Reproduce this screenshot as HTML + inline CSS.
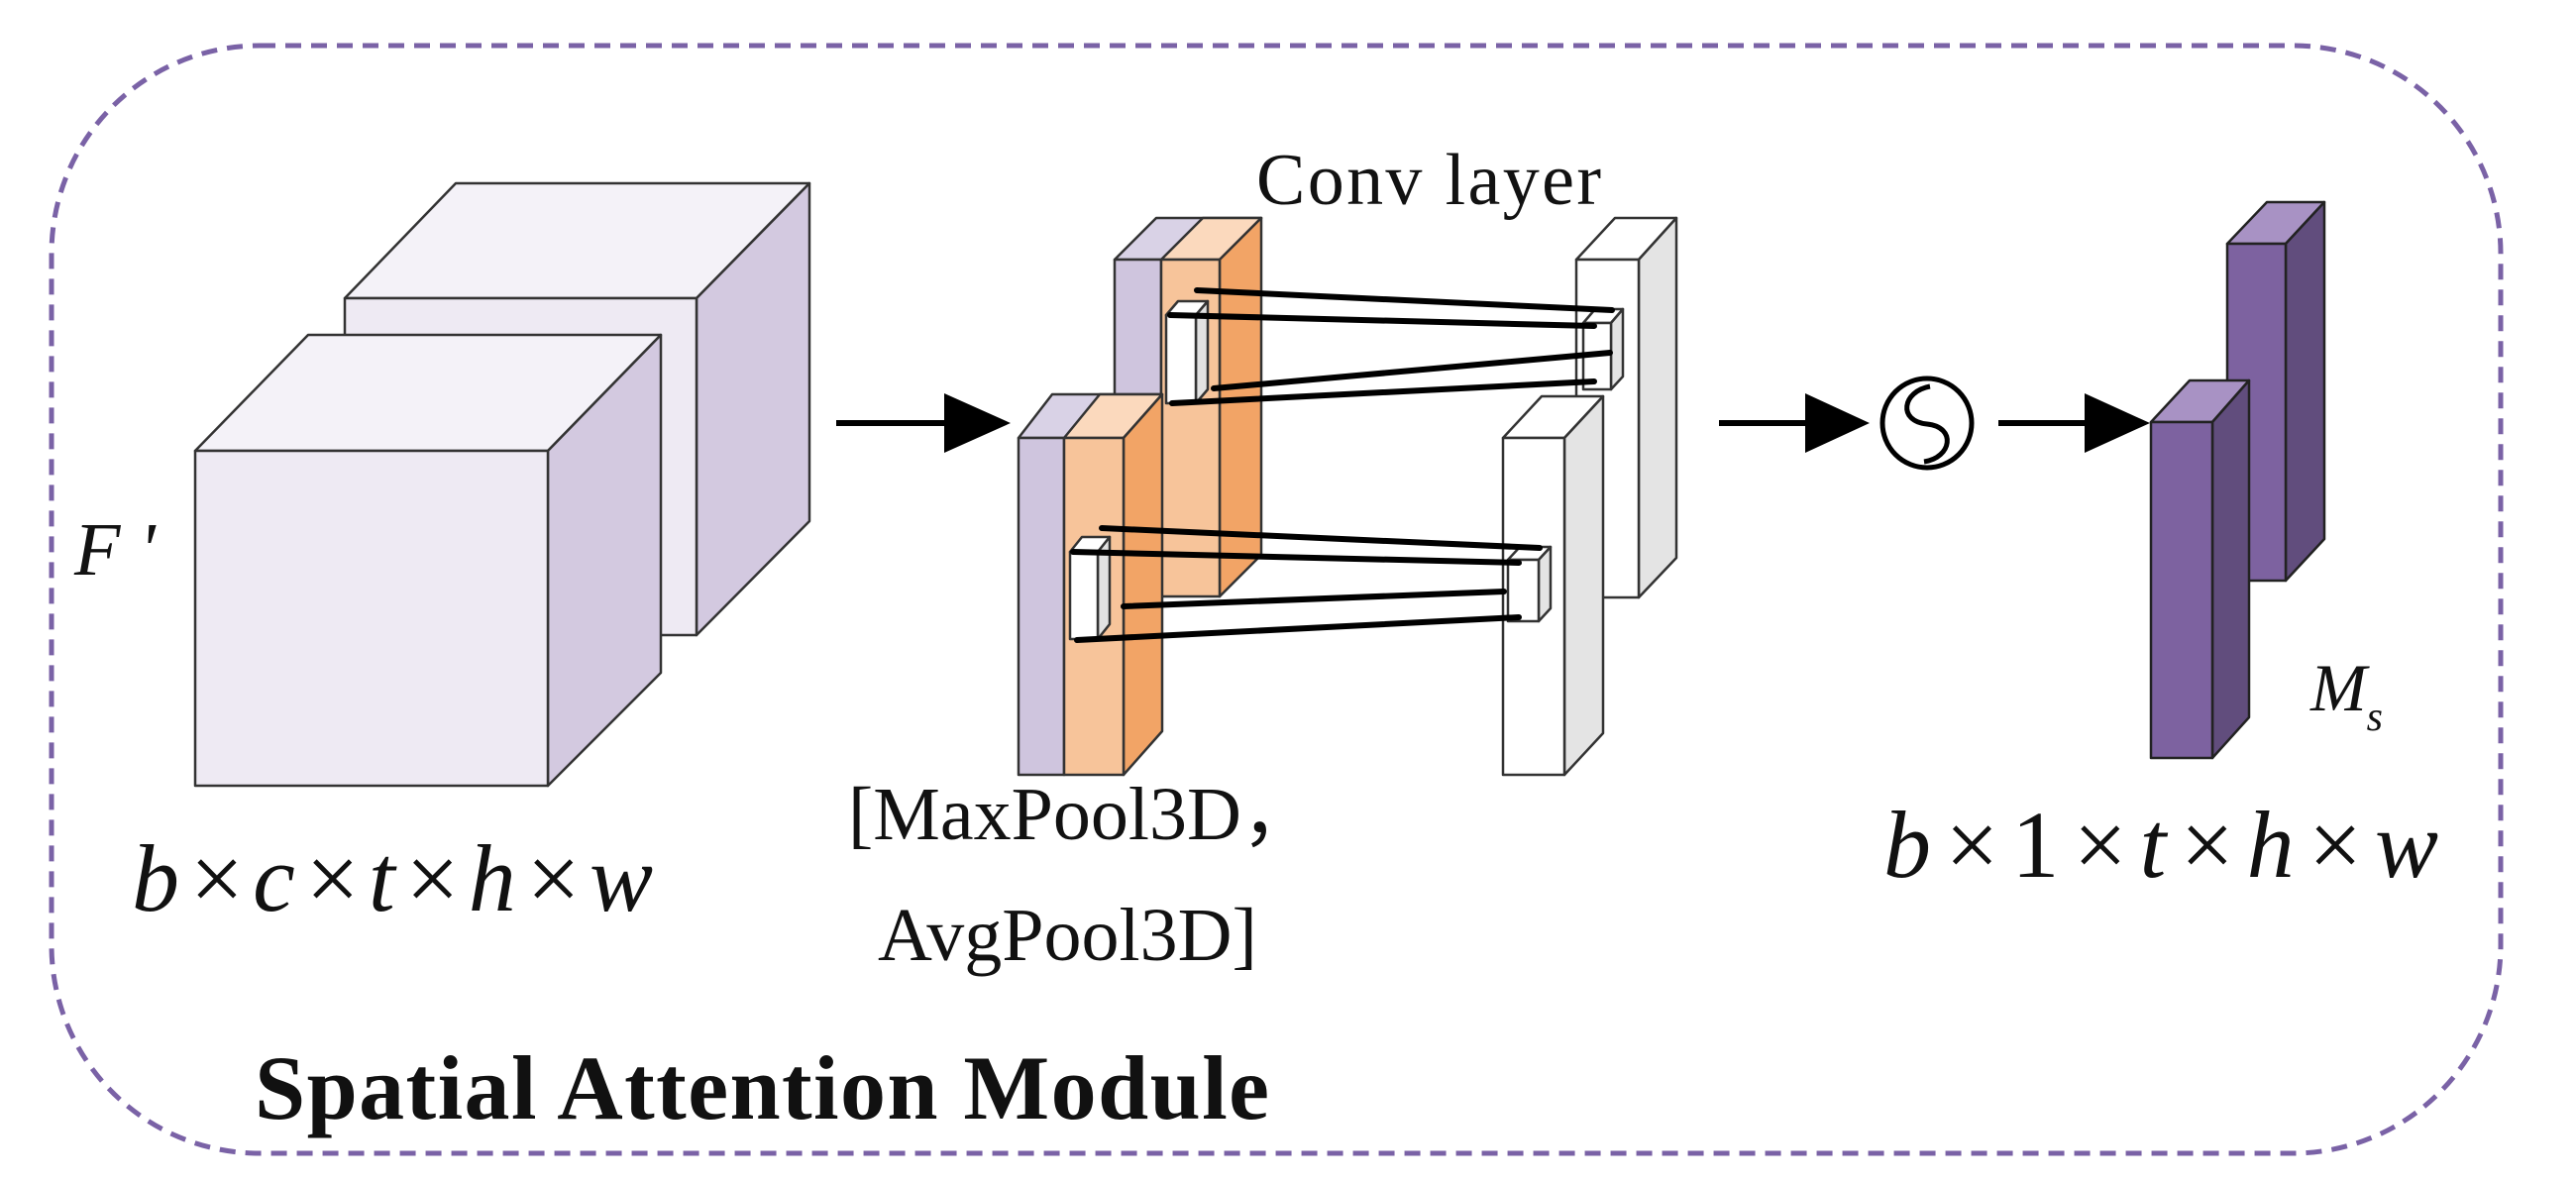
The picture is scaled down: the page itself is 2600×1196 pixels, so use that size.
<!DOCTYPE html>
<html><head><meta charset="utf-8"><style>
html,body{margin:0;padding:0;background:#fff;}
svg{display:block;}
text{font-family:"Liberation Serif",serif;fill:#111;}
</style></head><body>
<svg width="2600" height="1196" viewBox="0 0 2600 1196" xmlns="http://www.w3.org/2000/svg">
<rect x="52" y="46" width="2472" height="1118" rx="210" ry="210" fill="none" stroke="#7a62a6" stroke-width="5" stroke-dasharray="16,10"/>

<g stroke="#333" stroke-width="2.5" stroke-linejoin="round">
<polygon points="348,301 460,185 817,185 703,301" fill="#f4f2f8"/>
<polygon points="703,301 817,185 817,526 703,641" fill="#d3c9e0"/>
<rect x="348" y="301" width="355" height="340" fill="#eeeaf3"/>
<polygon points="197,455 311,338 667,338 553,455" fill="#f4f2f8"/>
<polygon points="553,455 667,338 667,679 553,793" fill="#d3c9e0"/>
<rect x="197" y="455" width="356" height="338" fill="#eeeaf3"/>
</g>
<text x="75" y="580" font-size="76" font-style="italic">F '</text>
<text x="133" y="919" font-size="96" font-style="italic" textLength="526">b×c×t×h×w</text>

<line x1="844" y1="427" x2="960" y2="427" stroke="#000" stroke-width="6"/>
<polygon points="953,397 1020,427 953,457" fill="#000"/>

<g stroke="#333" stroke-width="2.5" stroke-linejoin="round">
<polygon points="1125,262 1167,220 1273,220 1231,262" fill="#d9d2e6"/>
<polygon points="1172,262 1214,220 1273,220 1231,262" fill="#fbd9bd"/>
<polygon points="1231,262 1273,220 1273,560 1231,602" fill="#f2a466"/>
<rect x="1125" y="262" width="47" height="340" fill="#cfc5de"/>
<rect x="1172" y="262" width="59" height="340" fill="#f7c49a"/>
<polygon points="1177,318 1189,304 1219,304 1207,318" fill="#fff"/>
<polygon points="1207,318 1219,304 1219,393 1207,407" fill="#e2e2e2"/>
<rect x="1177" y="318" width="30" height="89" fill="#fff"/>
<polygon points="1028,442 1062,398 1173,398 1134,442" fill="#d9d2e6"/>
<polygon points="1074,442 1110,398 1173,398 1134,442" fill="#fbd9bd"/>
<polygon points="1134,442 1173,398 1173,738 1134,782" fill="#f2a466"/>
<rect x="1028" y="442" width="46" height="340" fill="#cfc5de"/>
<rect x="1074" y="442" width="60" height="340" fill="#f7c49a"/>
<polygon points="1080,557 1092,542 1120,542 1108,557" fill="#fff"/>
<polygon points="1108,557 1120,542 1120,630 1108,645" fill="#e2e2e2"/>
<rect x="1080" y="557" width="28" height="88" fill="#fff"/>

<polygon points="1591,262 1630,220 1692,220 1654,262" fill="#fff"/>
<polygon points="1654,262 1692,220 1692,563 1654,603" fill="#e4e4e4"/>
<rect x="1591" y="262" width="63" height="341" fill="#fff"/>
<polygon points="1598,326 1610,312 1638,312 1626,326" fill="#fff"/>
<polygon points="1626,326 1638,312 1638,380 1626,393" fill="#e4e4e4"/>
<rect x="1598" y="326" width="28" height="67" fill="#fff"/>
<polygon points="1517,442 1556,400 1618,400 1579,442" fill="#fff"/>
<polygon points="1579,442 1618,400 1618,740 1579,782" fill="#e4e4e4"/>
<rect x="1517" y="442" width="62" height="340" fill="#fff"/>
<polygon points="1522,565 1534,552 1565,552 1553,565" fill="#fff"/>
<polygon points="1553,565 1565,552 1565,614 1553,627" fill="#e4e4e4"/>
<rect x="1522" y="565" width="31" height="62" fill="#fff"/>
</g>

<g stroke="#000" stroke-width="6" stroke-linecap="round">
<line x1="1208" y1="293" x2="1627" y2="313"/>
<line x1="1181" y1="318" x2="1609" y2="329"/>
<line x1="1225" y1="392" x2="1625" y2="356"/>
<line x1="1183" y1="407" x2="1609" y2="385"/>
<line x1="1112" y1="533" x2="1554" y2="553"/>
<line x1="1083" y1="557" x2="1533" y2="568"/>
<line x1="1134" y1="612" x2="1518" y2="597"/>
<line x1="1087" y1="646" x2="1533" y2="623"/>
</g>

<text x="1268" y="206" font-size="74" textLength="348">Conv layer</text>
<text x="856" y="847" font-size="76">[MaxPool3D，</text>
<text x="886" y="969" font-size="76">AvgPool3D]</text>

<line x1="1735" y1="427" x2="1830" y2="427" stroke="#000" stroke-width="6"/>
<polygon points="1822,397 1887,427 1822,457" fill="#000"/>
<circle cx="1945" cy="427" r="45" fill="#fff" stroke="#000" stroke-width="5"/>
<path d="M1948,390 C1920,395 1915,425 1945,428 C1975,431 1970,462 1942,466" fill="none" stroke="#000" stroke-width="5"/>
<line x1="2017" y1="427" x2="2110" y2="427" stroke="#000" stroke-width="6"/>
<polygon points="2104,397 2170,427 2104,457" fill="#000"/>

<g stroke="#222" stroke-width="2.5" stroke-linejoin="round">
<polygon points="2248,246 2288,204 2346,204 2307,246" fill="#a892c4"/>
<polygon points="2307,246 2346,204 2346,544 2307,586" fill="#614d7d"/>
<rect x="2248" y="246" width="59" height="340" fill="#7d62a0"/>
<polygon points="2171,426 2210,384 2270,384 2233,426" fill="#a892c4"/>
<polygon points="2233,426 2270,384 2270,724 2233,765" fill="#614d7d"/>
<rect x="2171" y="426" width="62" height="339" fill="#7d62a0"/>
</g>
<text x="2332" y="717" font-size="68" font-style="italic">M<tspan font-size="42" dy="20">s</tspan></text>
<text x="1901" y="885" font-size="96" font-style="italic" textLength="560">b×<tspan font-style="normal">1</tspan>×t×h×w</text>

<text x="257" y="1129" font-size="92" font-weight="bold" textLength="1024">Spatial Attention Module</text>
</svg>
</body></html>
